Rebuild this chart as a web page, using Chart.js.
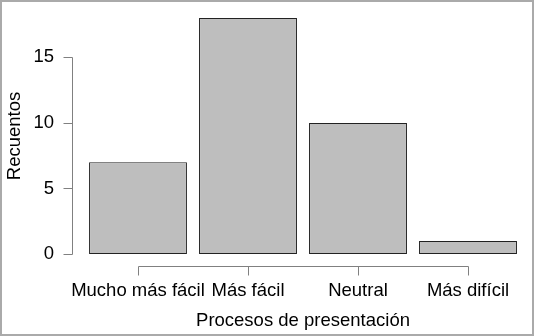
<!DOCTYPE html>
<html>
<head>
<meta charset="utf-8">
<script src="https://cdn.jsdelivr.net/npm/chart.js@4/dist/chart.umd.min.js"></script>
<style>
    html, body { margin: 0; padding: 0; background: #fff; }
    #chart-wrap { width: 534px; height: 336px; }
</style>
</head>
<body>
<div id="chart-wrap"><canvas id="recuentos-chart" width="534" height="336"></canvas></div>
<script>
var categories = ['Mucho más fácil', 'Más fácil', 'Neutral', 'Más difícil'];
var counts = [7, 18, 10, 1];
var yTicks = [0, 5, 10, 15];

var fontFamily = '"Liberation Sans", Arial, Helvetica, sans-serif';
var axisColor = '#808080';

// R-style axes: detached from the plot area, ticks pointing outwards
var detachedAxes = {
    id: 'detachedAxes',
    afterDraw: function(chart) {
        var ctx = chart.ctx;
        var x = chart.scales.x;
        var y = chart.scales.y;
        var area = chart.chartArea;
        var axisX = area.left - 11;
        var axisY = area.bottom + 12;
        var tick = 9;

        ctx.save();
        ctx.strokeStyle = axisColor;
        ctx.lineWidth = 1;

        // y axis
        var yTop = Math.round(y.getPixelForValue(yTicks[yTicks.length - 1])) + 0.5;
        var yBottom = Math.round(y.getPixelForValue(yTicks[0])) + 0.5;
        ctx.beginPath();
        ctx.moveTo(axisX + 0.5, yTop);
        ctx.lineTo(axisX + 0.5, yBottom);
        yTicks.forEach(function(v) {
            var py = Math.round(y.getPixelForValue(v)) + 0.5;
            ctx.moveTo(axisX + 0.5, py);
            ctx.lineTo(axisX + 0.5 - tick, py);
        });
        ctx.stroke();

        // x axis
        var xFirst = Math.round(x.getPixelForValue(0)) + 0.5;
        var xLast = Math.round(x.getPixelForValue(categories.length - 1)) + 0.5;
        ctx.beginPath();
        ctx.moveTo(xFirst, axisY + 0.5);
        ctx.lineTo(xLast, axisY + 0.5);
        categories.forEach(function(c, i) {
            var px = Math.round(x.getPixelForValue(i)) + 0.5;
            ctx.moveTo(px, axisY + 0.5);
            ctx.lineTo(px, axisY + 0.5 + tick);
        });
        ctx.stroke();

        // frame round the figure
        ctx.strokeStyle = '#aaaaaa';
        ctx.lineWidth = 2;
        ctx.strokeRect(1, 1, chart.width - 2, chart.height - 2);
        ctx.restore();
    }
};

var ctx = document.getElementById('recuentos-chart').getContext('2d');
new Chart(ctx, {
    type: 'bar',
    data: {
        labels: categories,
        datasets: [{
            label: 'Recuentos',
            data: counts,
            backgroundColor: '#bebebe',
            borderColor: '#222222',
            borderWidth: 1,
            borderSkipped: false,
            categoryPercentage: 1,
            barPercentage: 0.89
        }]
    },
    options: {
        responsive: false,
        animation: false,
        events: [],
        layout: {
            padding: { top: 18, right: 11, bottom: 2, left: 2 }
        },
        plugins: {
            legend: { display: false },
            tooltip: { enabled: false }
        },
        scales: {
            x: {
                grid: { display: false, drawTicks: false },
                border: { display: false },
                ticks: {
                    color: '#000',
                    padding: 26,
                    maxRotation: 0,
                    autoSkip: false,
                    font: { family: fontFamily, size: 18.5 }
                },
                title: {
                    display: true,
                    text: 'Procesos de presentación',
                    color: '#000',
                    padding: { top: 0, bottom: 2 },
                    font: { family: fontFamily, size: 18.5 }
                },
                afterFit: function(scale) {
                    scale.height = 80;
                    scale.paddingLeft = 0;
                    scale.paddingRight = 0;
                }
            },
            y: {
                min: 0,
                max: 18,
                grid: { display: false, drawTicks: false },
                border: { display: false },
                afterBuildTicks: function(scale) {
                    scale.ticks = yTicks.map(function(v) { return { value: v }; });
                },
                ticks: {
                    color: '#000',
                    padding: 29,
                    font: { family: fontFamily, size: 18.5 }
                },
                title: {
                    display: true,
                    text: 'Recuentos',
                    color: '#000',
                    padding: { top: 2, bottom: 0 },
                    font: { family: fontFamily, size: 18.5 }
                },
                afterFit: function(scale) {
                    scale.width = 81;
                    scale.paddingTop = 0;
                    scale.paddingBottom = 0;
                }
            }
        }
    },
    plugins: [detachedAxes]
});
</script>
</body>
</html>
